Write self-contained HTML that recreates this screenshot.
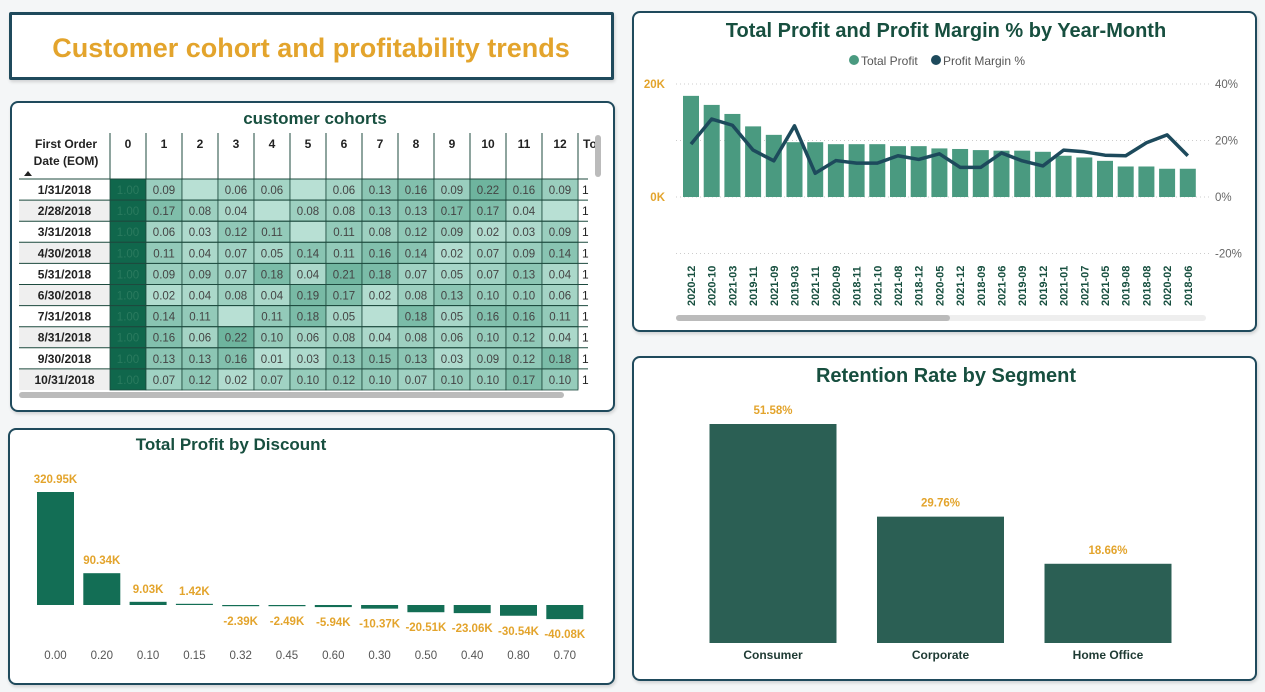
<!DOCTYPE html>
<html><head><meta charset="utf-8">
<style>
body{margin:0;width:1265px;height:692px;background:#f4f6f7;font-family:"Liberation Sans",sans-serif;position:relative;overflow:hidden}
.panel{position:absolute;background:#fff;border:2.5px solid #1f4a5c;border-radius:8px;box-sizing:border-box;box-shadow:1px 2px 3px rgba(0,0,0,.15)}
svg{position:absolute;left:0;top:0}
</style></head><body>
<div class="panel" style="left:9px;top:12px;width:605px;height:68px;border-radius:2px;border-width:3px"></div>
<div class="panel" style="left:10px;top:101px;width:605px;height:311px"></div>
<div class="panel" style="left:8px;top:428px;width:607px;height:257px"></div>
<div class="panel" style="left:632px;top:11px;width:625px;height:321px"></div>
<div class="panel" style="left:632px;top:356px;width:625px;height:325px"></div>
<svg id="s" width="1265" height="692" xmlns="http://www.w3.org/2000/svg" font-family="Liberation Sans, sans-serif">
<text x="311" y="57" text-anchor="middle" font-size="27" font-weight="bold" fill="#e3a42c">Customer cohort and profitability trends</text>
<text x="315" y="124" text-anchor="middle" font-size="17" font-weight="bold" fill="#174f3f">customer cohorts</text>
<text x="231" y="450" text-anchor="middle" font-size="17" font-weight="bold" fill="#174f3f">Total Profit by Discount</text>
<text x="946" y="37" text-anchor="middle" font-size="20" font-weight="bold" fill="#174f3f">Total Profit and Profit Margin % by Year-Month</text>
<text x="946" y="382" text-anchor="middle" font-size="20" font-weight="bold" fill="#174f3f">Retention Rate by Segment</text>
<g>
<circle cx="854" cy="60" r="5" fill="#4a9a80"/><text x="861" y="65" font-size="12" fill="#555">Total Profit</text>
<circle cx="936" cy="60" r="5" fill="#1d4a5c"/><text x="943" y="65" font-size="12" fill="#555">Profit Margin %</text>
</g>
<g id="cohort"></g><g id="disc"></g><g id="month"></g><g id="ret"></g>
</svg>
<script>
const NS="http://www.w3.org/2000/svg";
function mk(parent,tag,attrs,txt){const e=document.createElementNS(NS,tag);for(const k in attrs)e.setAttribute(k,attrs[k]);if(txt!==undefined)e.textContent=txt;parent.appendChild(e);return e;}

// ---- cohort data
const cohortRows=["1/31/2018","2/28/2018","3/31/2018","4/30/2018","5/31/2018","6/30/2018","7/31/2018","8/31/2018","9/30/2018","10/31/2018"];
const cohortCols=["0","1","2","3","4","5","6","7","8","9","10","11","12"];
const cohortVals=[
[1,.09,null,.06,.06,null,.06,.13,.16,.09,.22,.16,.09],
[1,.17,.08,.04,null,.08,.08,.13,.13,.17,.17,.04,null],
[1,.06,.03,.12,.11,null,.11,.08,.12,.09,.02,.03,.09],
[1,.11,.04,.07,.05,.14,.11,.16,.14,.02,.07,.09,.14],
[1,.09,.09,.07,.18,.04,.21,.18,.07,.05,.07,.13,.04],
[1,.02,.04,.08,.04,.19,.17,.02,.08,.13,.10,.10,.06],
[1,.14,.11,null,.11,.18,.05,null,.18,.05,.16,.16,.11],
[1,.16,.06,.22,.10,.06,.08,.04,.08,.06,.10,.12,.04],
[1,.13,.13,.16,.01,.03,.13,.15,.13,.03,.09,.12,.18],
[1,.07,.12,.02,.07,.10,.12,.10,.07,.10,.10,.17,.10]];
(function(){
const g=document.getElementById('cohort');
const x0=19,lw=91,cw=36,hy=133,hh=46,rh=21.1,ry=179;
mk(g,'text',{x:x0+47,y:148,'text-anchor':'middle','font-size':12,'font-weight':'bold',fill:'#222'},'First Order');
mk(g,'text',{x:x0+47,y:165,'text-anchor':'middle','font-size':12,'font-weight':'bold',fill:'#222'},'Date (EOM)');
mk(g,'path',{d:'M24,176 L28,171 L32,176Z',fill:'#222'});
cohortCols.forEach((c,j)=>{const cx=x0+lw+j*cw;
 const t=mk(g,'text',{x:cx+cw/2,y:148,'text-anchor':'middle','font-size':12,'font-weight':'bold',fill:'#222'},c);
 
 mk(g,'line',{x1:cx,y1:hy,x2:cx,y2:389,stroke:'#1d4a3e','stroke-width':1});});
mk(g,'text',{x:x0+lw+13*cw+5,y:148,'font-size':12,'font-weight':'bold',fill:'#222'},'To');
mk(g,'line',{x1:x0+lw+13*cw,y1:hy,x2:x0+lw+13*cw,y2:389,stroke:'#1d4a3e'});
cohortRows.forEach((r,i)=>{const y=ry+i*rh;
 mk(g,'rect',{x:x0,y:y,width:lw,height:rh,fill:i%2?'#efefef':'#fff'});
 const t=mk(g,'text',{x:x0+lw/2,y:y+15,'text-anchor':'middle','font-size':12,'font-weight':'bold',fill:'#222'},r);
 
 cohortVals[i].forEach((v,j)=>{const cx=x0+lw+j*cw;let fill;
  if(j===0)fill='#10674c';else{const f=Math.min((v||0)/0.22,1);
   const a=[184,224,212],b=[110,180,158];fill=`rgb(${a.map((q,k)=>Math.round(q+(b[k]-q)*f)).join(',')})`;}
  const c=mk(g,'rect',{x:cx,y:y,width:cw,height:rh,fill:fill,stroke:'#1d4a3e','stroke-width':0.8});
  
  if(v!==null)mk(g,'text',{x:cx+cw/2,y:y+15,'text-anchor':'middle','font-size':11.5,fill:j===0?'#2a7a5e':'#444'},v.toFixed(2));});
 mk(g,'text',{x:x0+lw+13*cw+4,y:y+15,'font-size':12,fill:'#222'},'1');
 mk(g,'line',{x1:x0,y1:y,x2:x0+lw+13*cw+10,y2:y,stroke:'#1d4a3e','stroke-width':1});});
mk(g,'rect',{x:x0,y:hy,width:584,height:hh,fill:'none'});
mk(g,'rect',{x:x0,y:392,width:545,height:6,rx:3,fill:'#bbb'});
mk(g,'rect',{x:595,y:135,width:6,height:42,rx:3,fill:'#bbb'});
})();

// ---- discount chart
const discCats=["0.00","0.20","0.10","0.15","0.32","0.45","0.60","0.30","0.50","0.40","0.80","0.70"];
const discVals=[320.95,90.34,9.03,1.42,-2.39,-2.49,-5.94,-10.37,-20.51,-23.06,-30.54,-40.08];
const discLabels=["320.95K","90.34K","9.03K","1.42K","-2.39K","-2.49K","-5.94K","-10.37K","-20.51K","-23.06K","-30.54K","-40.08K"];
(function(){
const g=document.getElementById('disc');const base=605,k=113/320.95;
const xs=i=>55.5+i*46.3;
discVals.forEach((v,i)=>{const h=Math.max(Math.abs(v)*k,1.2);const y=v>=0?base-h:base;
 const b=mk(g,'rect',{x:xs(i)-18.5,y:y,width:37,height:h,fill:'#136e55'});
 
 const ly=v>=0?base-h-9:base+h+19;
 mk(g,'text',{x:xs(i),y:ly,'text-anchor':'middle','font-size':11.5,'font-weight':'bold',fill:'#e3a42c'},discLabels[i]);
 mk(g,'text',{x:xs(i),y:659,'text-anchor':'middle','font-size':11.5,fill:'#555'},discCats[i]);});
})();

// ---- monthly chart
const monthCats=["2020-12","2020-10","2021-03","2019-11","2021-09","2019-03","2021-11","2020-09","2018-11","2021-10","2021-08","2018-12","2020-05","2021-12","2018-09","2021-06","2019-09","2019-12","2021-01","2021-07","2021-05","2019-08","2018-08","2020-02","2018-06"];
const monthProfit=[17.9,16.3,14.7,12.5,11.0,9.7,9.7,9.35,9.35,9.35,9.0,9.0,8.6,8.5,8.3,8.2,8.2,8.0,7.3,7.0,6.4,5.4,5.4,5.0,5.0];
const monthMargin=[18.7,27.6,25.4,16.6,12.8,25.2,8.4,12.9,12.0,12.0,14.6,13.3,15.3,10.5,10.5,15.6,12.8,11.0,16.6,16.0,14.8,14.6,19.2,22.0,14.6];
const leftTicks=["20K","0K"],rightTicks=["40%","20%","0%","-20%"];
(function(){
const g=document.getElementById('month');
const yL=v=>197-v/20*113, yR=v=>197-v/40*113, xs=i=>691+i*20.7;
[40,20,0,-20].forEach((t,i)=>{const y=yR(t);
 mk(g,'line',{x1:676,y1:y,x2:1210,y2:y,stroke:'#ccc','stroke-dasharray':'1 3'});
 mk(g,'text',{x:1215,y:y+4,'font-size':11.5,fill:'#666'},rightTicks[i]);});
[20,0].forEach((t,i)=>mk(g,'text',{x:665,y:yL(t)+4,'text-anchor':'end','font-size':11.5,'font-weight':'bold',fill:'#e3a42c'},leftTicks[i]));
monthProfit.forEach((v,i)=>{const b=mk(g,'rect',{x:xs(i)-8,y:yL(v),width:16,height:197-yL(v),fill:'#4a9a80'});
 
 const t=mk(g,'text',{x:0,y:0,transform:`translate(${xs(i)+4},306) rotate(-90)`,'font-size':11,'font-weight':'bold',fill:'#174f3f'},monthCats[i]);
 });
const l=mk(g,'polyline',{points:monthMargin.map((v,i)=>xs(i)+','+yR(v)).join(' '),fill:'none',stroke:'#1d4a5c','stroke-width':3.5,'stroke-linejoin':'round'});

mk(g,'rect',{x:676,y:315,width:530,height:6,rx:3,fill:'#eee'});
const sb=mk(g,'rect',{x:676,y:315,width:274,height:6,rx:3,fill:'#bbb'});

})();

// ---- retention
const segCats=["Consumer","Corporate","Home Office"];
const segVals=[51.58,29.76,18.66];
(function(){
const g=document.getElementById('ret');const base=643,k=219/51.58,xs=i=>773+i*167.5;
segVals.forEach((v,i)=>{const h=v*k;
 const b=mk(g,'rect',{x:xs(i)-63.5,y:base-h,width:127,height:h,fill:'#2b5f54'});
 
 mk(g,'text',{x:xs(i),y:base-h-10,'text-anchor':'middle','font-size':11.5,'font-weight':'bold',fill:'#e3a42c'},v.toFixed(2)+'%');
 mk(g,'text',{x:xs(i),y:659,'text-anchor':'middle','font-size':12,'font-weight':'bold',fill:'#1e3a33'},segCats[i]);});
})();
</script>
</body></html>
